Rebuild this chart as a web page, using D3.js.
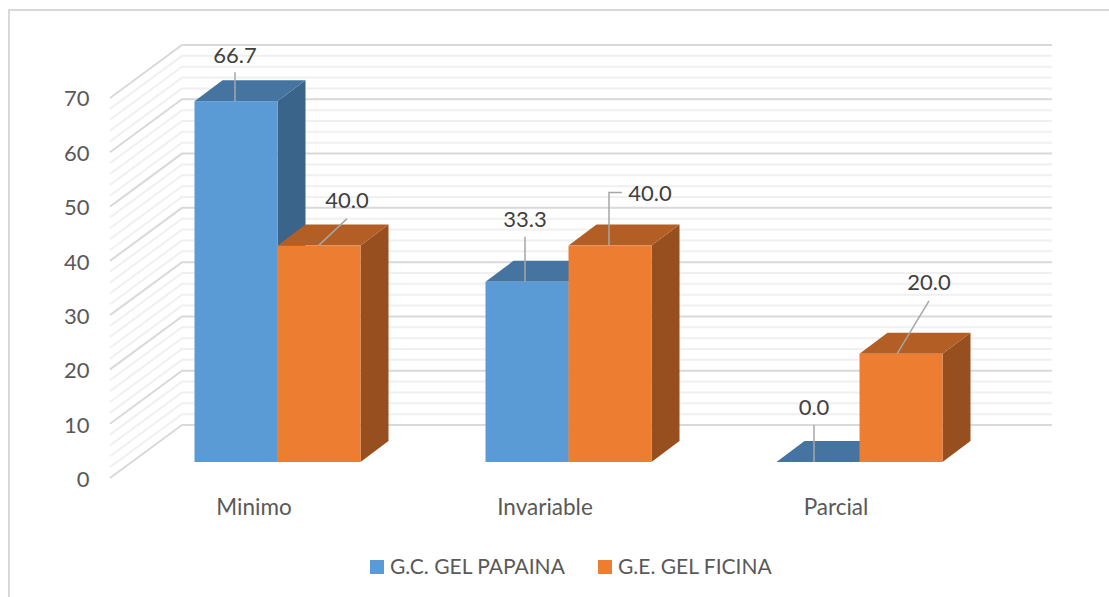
<!DOCTYPE html>
<html>
<head>
<meta charset="utf-8">
<script src="https://cdn.jsdelivr.net/npm/d3@7/dist/d3.min.js"></script>
<style>
  html, body { margin: 0; padding: 0; background: #fff; }
  svg { display: block; }
  text { font-family: Lato, "Open Sans", sans-serif; }
</style>
</head>
<body>
<svg id="chart" width="1109" height="597"></svg>
<script>
// Values for the clustered 3D column chart
const categories = ["Minimo", "Invariable", "Parcial"];
const seriesNames = ["G.C. GEL PAPAINA", "G.E. GEL FICINA"];
const papainaValues = [66.7, 33.3, 0.0];
const ficinaValues = [40.0, 40.0, 20.0];
const yTickValues = [0, 10, 20, 30, 40, 50, 60, 70];

const palette = [
  { front: "#5b9bd5", top: "#44749f", side: "#3a6489" },
  { front: "#ed7d31", top: "#b25e25", side: "#984f1f" }
];

// Projection of the box: wall corners and bar depth
const wall = { dx: 72, dy: 53, backLeft: 182, backRight: 1052 };
const barDepth = { dx: 28, dy: -21 };

// Label placement per series and category: label centre and leader start,
// relative to the middle of the bar's front top edge
const labelLayout = [
  [{ tx: -1, ty: -46, lx: -1, ly: -29, at: -1 }, { tx: -2, ty: -63, lx: -2, ly: -45, at: -2 }, { tx: -4, ty: -55, lx: -4, ly: -37, at: -4 }],
  [{ tx: 28, ty: -45, lx: 28, ly: -27, at: -0.5 }, { tx: 40, ty: -52, lx: -1, ly: -53, at: -1, elbow: 13 }, { tx: 28, ty: -72, lx: 28, ly: -53, at: -4 }]
];

const svg = d3.select("#chart");
const y = d3.scaleLinear().domain([0, 70]).range([462, 462 - 70 * 5.41]);
const yWall = d3.scaleLinear().domain([0, 70]).range([425, 45]);
const x0 = d3.scaleBand().domain(categories).range([132, 1005]);
const x1 = d3.scaleBand().domain([0, 1]).range([x0.bandwidth() / 2 - 83, x0.bandwidth() / 2 + 83]);

// Outer frame, open on the right and bottom
svg.append("path")
  .attr("d", d3.line()([[9, 597], [9, 10], [1109, 10]]))
  .attr("fill", "none").attr("stroke", "#d9d9d9").attr("stroke-width", 2);

// Back wall and side wall gridlines, major every 10 and minor every 2
const gridLayer = svg.append("g").attr("fill", "none");
const gridValues = d3.range(0, 71, 2).sort((a, b) => (a % 10 === 0) - (b % 10 === 0));
gridLayer.selectAll("path").data(gridValues).join("path")
  .attr("d", v => {
    const yb = yWall(v);
    return d3.line()([[wall.backLeft - wall.dx, yb + wall.dy], [wall.backLeft, yb], [wall.backRight, yb]]);
  })
  .attr("stroke", v => v % 10 === 0 ? "#d9d9d9" : "#f0f0f0")
  .attr("stroke-width", 2);

// Vertical axis labels sit at the front edge of the side wall
const yFront = d3.scaleLinear().domain([0, 70]).range([yWall(0) + wall.dy + 1, yWall(70) + wall.dy + 0.5]);
const yAxis = svg.append("g").attr("transform", "translate(89.5,0)")
  .call(d3.axisLeft(yFront).tickValues(yTickValues).tickSize(0).tickPadding(0));
yAxis.select(".domain").remove();
yAxis.selectAll("text").attr("font-size", 22).attr("fill", "#595959").attr("dy", "0.34em")
  .style("font-family", "Lato, 'Open Sans', sans-serif");

// Category labels
const xAxis = svg.append("g").attr("transform", "translate(-23.5,499)")
  .call(d3.axisBottom(x0).tickSize(0).tickPadding(0));
xAxis.select(".domain").remove();
xAxis.selectAll("text").attr("font-size", 22.5).attr("fill", "#595959")
  .style("font-family", "Lato, 'Open Sans', sans-serif");

// Flatten the series into drawable bars, ordered so the nearer column covers its neighbour
const seriesValues = [papainaValues, ficinaValues];
const bars = seriesValues.flatMap((vals, s) => vals.map((v, c) => ({
  s, c, v,
  x: x0(categories[c]) + x1(s),
  w: x1.bandwidth(),
  yTop: y(v)
}))).sort((a, b) => a.c - b.c || a.s - b.s);

const barLayer = svg.append("g");
const groups = barLayer.selectAll("g").data(bars).join("g");
groups.append("path")
  .attr("d", d => d3.line()([[d.x + d.w, d.yTop], [d.x + d.w + barDepth.dx, d.yTop + barDepth.dy], [d.x + d.w + barDepth.dx, y(0) + barDepth.dy], [d.x + d.w, y(0)]]) + "Z")
  .attr("fill", d => palette[d.s].side);
groups.append("path")
  .attr("d", d => d3.line()([[d.x, d.yTop], [d.x + barDepth.dx, d.yTop + barDepth.dy], [d.x + d.w + barDepth.dx, d.yTop + barDepth.dy], [d.x + d.w, d.yTop]]) + "Z")
  .attr("fill", d => palette[d.s].top);
groups.append("rect")
  .attr("x", d => d.x).attr("y", d => d.yTop)
  .attr("width", d => d.w).attr("height", d => y(0) - d.yTop)
  .attr("fill", d => palette[d.s].front);

// Value labels and their leader lines
const labelLayer = svg.append("g");
bars.forEach(d => {
  const p = labelLayout[d.s][d.c];
  const cx = d.x + d.w / 2;
  const pts = [[cx + p.lx, d.yTop + p.ly]];
  if (p.elbow) pts.unshift([cx + p.lx + p.elbow, d.yTop + p.ly]);
  pts.push([cx + p.at, d.yTop]);
  labelLayer.append("path")
    .attr("d", d3.line()(pts))
    .attr("fill", "none").attr("stroke", "#a6a6a6").attr("stroke-width", 1.5);
  labelLayer.append("text")
    .attr("x", cx + p.tx).attr("y", d.yTop + p.ty)
    .attr("text-anchor", "middle").attr("dy", "0.35em")
    .attr("font-size", 22).attr("fill", "#404040")
    .text(d.v.toFixed(1));
});

// Legend
const legendItems = [{ sw: 370, tx: 390 }, { sw: 598, tx: 618 }];
const legend = svg.append("g").selectAll("g").data(seriesNames).join("g");
legend.append("rect")
  .attr("x", (d, i) => legendItems[i].sw).attr("y", 560)
  .attr("width", 14).attr("height", 14)
  .attr("fill", (d, i) => palette[i].front);
legend.append("text")
  .attr("x", (d, i) => legendItems[i].tx).attr("y", 567).attr("dy", "0.35em")
  .attr("font-size", 21).attr("fill", "#595959")
  .text(d => d);
</script>
</body>
</html>
